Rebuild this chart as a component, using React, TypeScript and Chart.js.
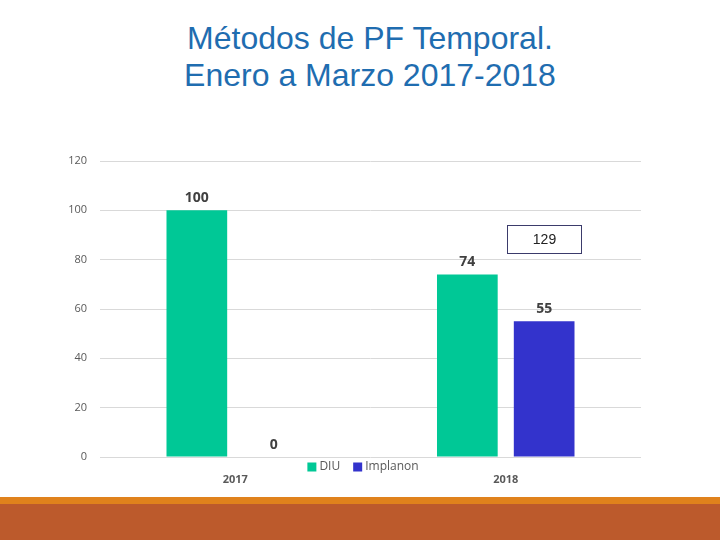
import { useEffect, useRef } from 'react';
import Chart from 'chart.js/auto';

const categorias = ['2017', '2018'];
const serieNombres = ['DIU', 'Implanon'];
const valoresDIU = [100, 74];
const valoresImplanon = [0, 55];
const coloresSerie = ['#00C896', '#3333CC'];
const ticksY = [0, 20, 40, 60, 80, 100, 120];

// etiquetas de valor encima de cada barra
const etiquetasPlugin = {
    id: 'etiquetas',
    afterDatasetsDraw(chart: any) {
        const ctx = chart.ctx;
        ctx.save();
        ctx.font = 'bold 14px "Open Sans", sans-serif';
        ctx.fillStyle = '#404040';
        ctx.textAlign = 'center';
        ctx.textBaseline = 'bottom';
        chart.data.datasets.forEach((ds: any, i: number) => {
            chart.getDatasetMeta(i).data.forEach((bar: any, j: number) => {
                ctx.fillText(String(ds.data[j]), bar.x, bar.y - 5);
            });
        });
        ctx.restore();
    }
};

// leyenda dentro de la zona del eje x
const leyendaPlugin = {
    id: 'leyendaBaja',
    afterDraw(chart: any) {
        const ctx = chart.ctx;
        const area = chart.chartArea;
        ctx.save();
        ctx.font = '12px "Open Sans", sans-serif';
        ctx.textBaseline = 'middle';
        ctx.textAlign = 'left';
        const caja = 9;
        const anchos = chart.data.datasets.map((ds: any) => caja + 4 + ctx.measureText(ds.label).width);
        const total = anchos.reduce((a: number, b: number) => a + b, 0) + 12 * (anchos.length - 1);
        let x = (area.left + area.right) / 2 - total / 2 - 7;
        const y = area.bottom + 10;
        chart.data.datasets.forEach((ds: any, i: number) => {
            ctx.fillStyle = ds.backgroundColor;
            ctx.fillRect(x, y - caja / 2, caja, caja);
            ctx.fillStyle = '#595959';
            ctx.fillText(ds.label, x + caja + 3, y);
            x += anchos[i] + 12;
        });
        ctx.restore();
    }
};

export default function GraficoPF() {
    const canvasRef = useRef<HTMLCanvasElement>(null);

    useEffect(() => {
        let grafico: any = null;
        if (canvasRef.current) {
            grafico = new Chart(canvasRef.current as any, {
                type: 'bar',
                data: {
                    labels: categorias,
                    datasets: [
                        { label: serieNombres[0], data: valoresDIU, backgroundColor: coloresSerie[0] },
                        { label: serieNombres[1], data: valoresImplanon, backgroundColor: coloresSerie[1] }
                    ]
                },
                options: {
                    animation: false,
                    responsive: true,
                    maintainAspectRatio: false,
                    layout: { padding: { left: 0, top: 161, right: 79, bottom: 53 } },
                    datasets: { bar: { categoryPercentage: 0.568, barPercentage: 0.79 } },
                    plugins: {
                        legend: { display: false },
                        tooltip: { enabled: false },
                        title: { display: false }
                    },
                    scales: {
                        x: {
                            grid: { display: false },
                            border: { display: false },
                            ticks: {
                                color: '#595959',
                                padding: 8,
                                font: { family: '"Open Sans", sans-serif', size: 11, weight: 'bold' }
                            },
                            afterFit: (s: any) => { s.height = 30; }
                        },
                        y: {
                            min: 0,
                            max: 120,
                            afterBuildTicks: (s: any) => { s.ticks = ticksY.map((v) => ({ value: v })); },
                            grid: { color: '#D9D9D9', drawTicks: false },
                            border: { display: false },
                            ticks: {
                                color: '#595959',
                                padding: 13,
                                font: { family: '"Open Sans", sans-serif', size: 11 }
                            },
                            afterFit: (s: any) => { s.width = 100; }
                        }
                    }
                },
                plugins: [etiquetasPlugin, leyendaPlugin]
            });
        }
        return () => {
            if (grafico) grafico.destroy();
        };
    }, []);

    return (
        <div style={{ position: 'absolute', left: 0, top: 0, width: 720, height: 540, background: '#fff', overflow: 'hidden', fontFamily: '"Liberation Sans", Arial, sans-serif' }}>
            <div style={{ position: 'absolute', left: 0, top: 20, width: 740, textAlign: 'center', color: '#1F6DB0', fontSize: 32, lineHeight: '37px' }}>
                Métodos de PF Temporal.<br />Enero a Marzo 2017-2018
            </div>
            <div style={{ position: 'absolute', left: 0, top: 0, width: 720, height: 540 }}>
                <canvas ref={canvasRef}></canvas>
            </div>
            <div style={{ position: 'absolute', left: 507, top: 225, width: 73, height: 27, border: '1px solid #3B3B6B', textAlign: 'center', lineHeight: '27px', fontSize: 14, color: '#222' }}>
                129
            </div>
            <div style={{ position: 'absolute', left: 0, top: 497, width: 720, height: 7, background: '#E0821C' }}></div>
            <div style={{ position: 'absolute', left: 0, top: 504, width: 720, height: 36, background: '#BC5A2C' }}></div>
        </div>
    );
}
